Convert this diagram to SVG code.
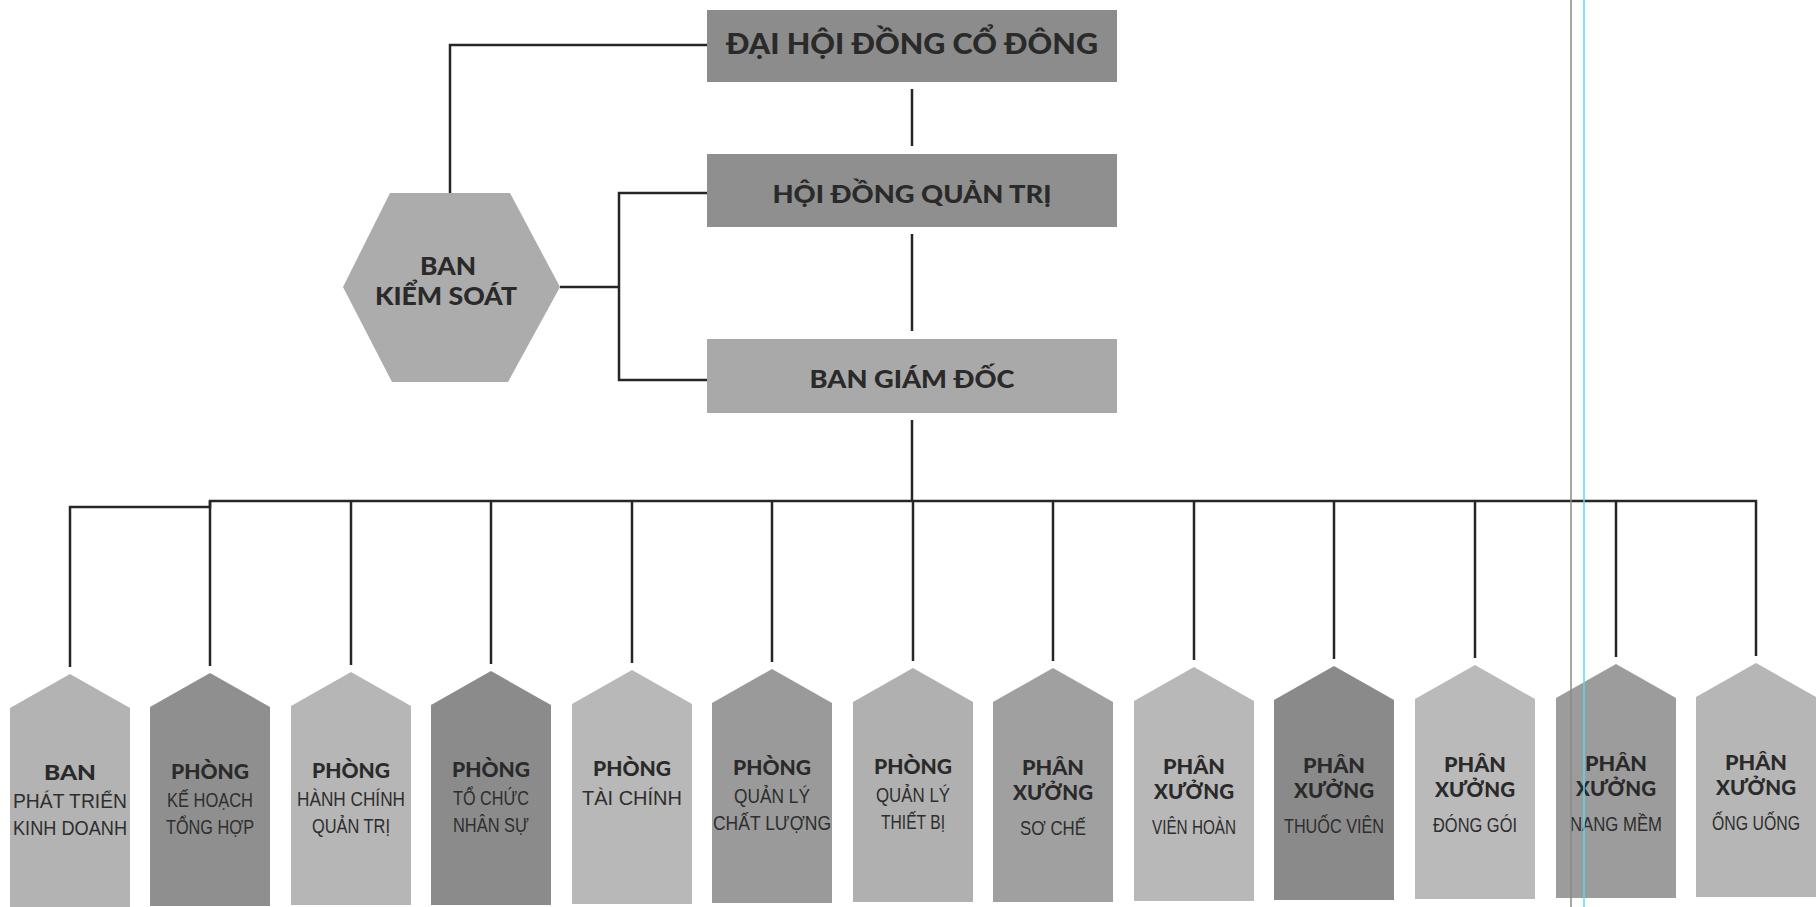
<svg xmlns="http://www.w3.org/2000/svg" width="1819" height="907" viewBox="0 0 1819 907">
<style>
.bg{fill:#ffffff}
.conn{fill:none;stroke:#262626;stroke-width:2.5}
.hd{font-family:Lato,"Open Sans","Noto Sans",sans-serif;font-weight:900;fill:#2a2a2a;text-anchor:middle}
.tt{font-family:Lato,"Open Sans","Noto Sans",sans-serif;font-weight:900;font-size:20px;fill:#2a2a2a;text-anchor:middle}
.sb{font-family:"Liberation Sans Narrow","Liberation Sans",Arial,sans-serif;font-size:21px;fill:#2e2e2e;text-anchor:middle}
.art1{stroke:#8a8a8a;stroke-width:1.5}
.art2{stroke:#5fd6f2;stroke-width:1.5}
</style>
<rect class="bg" x="0" y="0" width="1819" height="907"/>

<g id="connectors">
<polyline class="conn" points="450,193 450,45 707,45"/>
<line class="conn" x1="912" y1="89" x2="912" y2="146"/>
<line class="conn" x1="912" y1="234" x2="912" y2="331"/>
<line class="conn" x1="912" y1="420" x2="912" y2="502"/>
<line class="conn" x1="560" y1="287" x2="619" y2="287"/>
<polyline class="conn" points="707,193 619,193 619,380 707,380"/>
<polyline class="conn" points="70,667 70,507 210,507 210,501 1756,501 1756,656"/>
<line class="conn" x1="210" y1="501" x2="210" y2="666"/>
<line class="conn" x1="351" y1="501" x2="351" y2="665"/>
<line class="conn" x1="491" y1="501" x2="491" y2="664"/>
<line class="conn" x1="632" y1="501" x2="632" y2="663"/>
<line class="conn" x1="772" y1="501" x2="772" y2="662"/>
<line class="conn" x1="913" y1="501" x2="913" y2="661"/>
<line class="conn" x1="1053" y1="501" x2="1053" y2="661"/>
<line class="conn" x1="1194" y1="501" x2="1194" y2="660"/>
<line class="conn" x1="1334" y1="501" x2="1334" y2="659"/>
<line class="conn" x1="1475" y1="501" x2="1475" y2="658"/>
<line class="conn" x1="1616" y1="501" x2="1616" y2="657"/>
</g>

<g id="dhcd">
<rect x="707" y="10" width="410" height="72" fill="#8c8c8c"/>
<text class="hd" x="912" y="54" font-size="29" textLength="372" lengthAdjust="spacingAndGlyphs">ĐẠI HỘI ĐỒNG CỔ ĐÔNG</text>
</g>
<g id="hdqt">
<rect x="707" y="154" width="410" height="73" fill="#8f8f8f"/>
<text class="hd" x="912" y="203" font-size="24" textLength="279" lengthAdjust="spacingAndGlyphs">HỘI ĐỒNG QUẢN TRỊ</text>
</g>
<g id="bgd">
<rect x="707" y="339" width="410" height="74" fill="#a9a9a9"/>
<text class="hd" x="912" y="388" font-size="24" textLength="205" lengthAdjust="spacingAndGlyphs">BAN GIÁM ĐỐC</text>
</g>
<g id="bks">
<polygon points="390,193 510,193 560,287 508,382 392,382 343,287" fill="#acacac"/>
<text class="hd" x="448" y="275" font-size="24" textLength="56" lengthAdjust="spacingAndGlyphs">BAN</text>
<text class="hd" x="446" y="305" font-size="24" textLength="142" lengthAdjust="spacingAndGlyphs">KIỂM SOÁT</text>
</g>

<g id="p0">
<polygon points="10,708 70,674 130,708 130,907 10,907" fill="#b3b3b3"/>
<text class="tt" x="70" y="780" textLength="52" lengthAdjust="spacingAndGlyphs">BAN</text>
<text class="sb" x="70" y="808" textLength="114" lengthAdjust="spacingAndGlyphs">PHÁT TRIỂN</text>
<text class="sb" x="70" y="835" textLength="114" lengthAdjust="spacingAndGlyphs">KINH DOANH</text>
</g>
<g id="p1">
<polygon points="150,707 210,673 270,707 270,906 150,906" fill="#8f8f8f"/>
<text class="tt" x="210" y="779" textLength="78" lengthAdjust="spacingAndGlyphs">PHÒNG</text>
<text class="sb" x="210" y="807" textLength="86" lengthAdjust="spacingAndGlyphs">KẾ HOẠCH</text>
<text class="sb" x="210" y="834" textLength="88" lengthAdjust="spacingAndGlyphs">TỔNG HỢP</text>
</g>
<g id="p2">
<polygon points="291,706 351,672 411,706 411,905 291,905" fill="#b6b6b6"/>
<text class="tt" x="351" y="778" textLength="78" lengthAdjust="spacingAndGlyphs">PHÒNG</text>
<text class="sb" x="351" y="806" textLength="108" lengthAdjust="spacingAndGlyphs">HÀNH CHÍNH</text>
<text class="sb" x="351" y="833" textLength="78" lengthAdjust="spacingAndGlyphs">QUẢN TRỊ</text>
</g>
<g id="p3">
<polygon points="431,705 491,671 551,705 551,905 431,905" fill="#8b8b8b"/>
<text class="tt" x="491" y="777" textLength="78" lengthAdjust="spacingAndGlyphs">PHÒNG</text>
<text class="sb" x="491" y="805" textLength="76" lengthAdjust="spacingAndGlyphs">TỔ CHỨC</text>
<text class="sb" x="491" y="832" textLength="76" lengthAdjust="spacingAndGlyphs">NHÂN SỰ</text>
</g>
<g id="p4">
<polygon points="572,704 632,670 692,704 692,904 572,904" fill="#b8b8b8"/>
<text class="tt" x="632" y="776" textLength="78" lengthAdjust="spacingAndGlyphs">PHÒNG</text>
<text class="sb" x="632" y="805" textLength="100" lengthAdjust="spacingAndGlyphs">TÀI CHÍNH</text>
</g>
<g id="p5">
<polygon points="712,703 772,669 832,703 832,903 712,903" fill="#9a9a9a"/>
<text class="tt" x="772" y="775" textLength="78" lengthAdjust="spacingAndGlyphs">PHÒNG</text>
<text class="sb" x="772" y="803" textLength="76" lengthAdjust="spacingAndGlyphs">QUẢN LÝ</text>
<text class="sb" x="772" y="830" textLength="118" lengthAdjust="spacingAndGlyphs">CHẤT LƯỢNG</text>
</g>
<g id="p6">
<polygon points="853,702 913,668 973,702 973,902 853,902" fill="#b0b0b0"/>
<text class="tt" x="913" y="774" textLength="78" lengthAdjust="spacingAndGlyphs">PHÒNG</text>
<text class="sb" x="913" y="802" textLength="74" lengthAdjust="spacingAndGlyphs">QUẢN LÝ</text>
<text class="sb" x="913" y="829" textLength="64" lengthAdjust="spacingAndGlyphs">THIẾT BỊ</text>
</g>
<g id="p7">
<polygon points="993,702 1053,668 1113,702 1113,902 993,902" fill="#a0a0a0"/>
<text class="tt" x="1053" y="775" textLength="62" lengthAdjust="spacingAndGlyphs">PHÂN</text>
<text class="tt" x="1053" y="800" textLength="80" lengthAdjust="spacingAndGlyphs">XƯỞNG</text>
<text class="sb" x="1053" y="835" textLength="66" lengthAdjust="spacingAndGlyphs">SƠ CHẾ</text>
</g>
<g id="p8">
<polygon points="1134,701 1194,667 1254,701 1254,901 1134,901" fill="#b8b8b8"/>
<text class="tt" x="1194" y="774" textLength="62" lengthAdjust="spacingAndGlyphs">PHÂN</text>
<text class="tt" x="1194" y="799" textLength="80" lengthAdjust="spacingAndGlyphs">XƯỞNG</text>
<text class="sb" x="1194" y="834" textLength="84" lengthAdjust="spacingAndGlyphs">VIÊN HOÀN</text>
</g>
<g id="p9">
<polygon points="1274,700 1334,666 1394,700 1394,900 1274,900" fill="#8a8a8a"/>
<text class="tt" x="1334" y="773" textLength="62" lengthAdjust="spacingAndGlyphs">PHÂN</text>
<text class="tt" x="1334" y="798" textLength="80" lengthAdjust="spacingAndGlyphs">XƯỞNG</text>
<text class="sb" x="1334" y="833" textLength="100" lengthAdjust="spacingAndGlyphs">THUỐC VIÊN</text>
</g>
<g id="p10">
<polygon points="1415,699 1475,665 1535,699 1535,899 1415,899" fill="#bababa"/>
<text class="tt" x="1475" y="772" textLength="62" lengthAdjust="spacingAndGlyphs">PHÂN</text>
<text class="tt" x="1475" y="797" textLength="80" lengthAdjust="spacingAndGlyphs">XƯỞNG</text>
<text class="sb" x="1475" y="832" textLength="84" lengthAdjust="spacingAndGlyphs">ĐÓNG GÓI</text>
</g>
<g id="p11">
<polygon points="1556,698 1616,664 1676,698 1676,898 1556,898" fill="#9c9c9c"/>
<text class="tt" x="1616" y="771" textLength="62" lengthAdjust="spacingAndGlyphs">PHÂN</text>
<text class="tt" x="1616" y="796" textLength="80" lengthAdjust="spacingAndGlyphs">XƯỞNG</text>
<text class="sb" x="1616" y="831" textLength="92" lengthAdjust="spacingAndGlyphs">NANG MỀM</text>
</g>
<g id="p12">
<polygon points="1696,697 1756,663 1816,697 1816,897 1696,897" fill="#b6b6b6"/>
<text class="tt" x="1756" y="770" textLength="62" lengthAdjust="spacingAndGlyphs">PHÂN</text>
<text class="tt" x="1756" y="795" textLength="80" lengthAdjust="spacingAndGlyphs">XƯỞNG</text>
<text class="sb" x="1756" y="830" textLength="88" lengthAdjust="spacingAndGlyphs">ỐNG UỐNG</text>
</g>

<line class="art1" x1="1571" y1="0" x2="1571" y2="907"/>
<line class="art2" x1="1584" y1="0" x2="1584" y2="907"/>
</svg>
